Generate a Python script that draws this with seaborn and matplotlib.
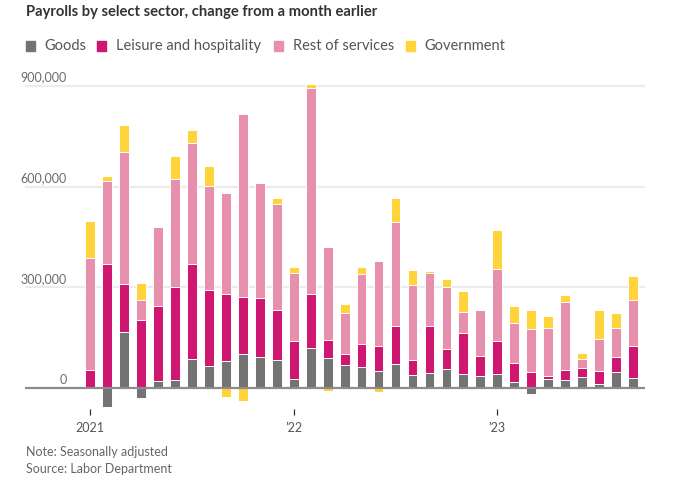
import numpy as np
import pandas as pd
import matplotlib
matplotlib.use("Agg")
import matplotlib.pyplot as plt
from matplotlib.patches import Rectangle
import seaborn as sns

# ---- data (thousands of jobs, monthly change) ----
months = pd.date_range("2021-01-01", "2023-09-01", freq="MS").strftime("%Y-%m").tolist()
goods = [0, -55, 166, -30, 20, 25, 88, 65, 81, 103, 94, 84, 28, 119, 91, 68, 62, 50,
         71, 38, 45, 56, 42, 36, 42, 18, -17, 26, 23, 33, 11, 48, 30]
leisure = [55, 371, 143, 204, 224, 275, 283, 226, 200, 168, 175, 149, 113, 162, 53, 35, 70,
           75, 113, 47, 139, 62, 121, 59, 97, 56, 48, 10, 31, 27, 39, 45, 95]
rest = [332, 247, 393, 57, 237, 324, 360, 310, 300, 545, 342, 316, 202, 613, 276, 122, 209,
        254, 310, 221, 160, 182, 65, 137, 215, 119, 128, 143, 202, 28, 95, 86, 138]
government = [110, 13, 82, 53, 0, 67, 36, 60, -27, -37, 0, 18, 18, 12, -8, 26, 20, -12,
              73, 45, 6, 24, 62, 5, 118, 51, 58, 37, 22, 16, 89, 46, 72]
series_names = ["Goods", "Leisure and hospitality", "Rest of services", "Government"]
colors = ["#737373", "#CF1670", "#E790AE", "#FFD43B"]
y_ticks = [0, 300000, 600000, 900000]
x_tick_months = ["2021-01", "2022-01", "2023-01"]
x_tick_labels = ["2021", "\u201922", "\u201923"]

sns.set_theme(style="white")
plt.rcParams["font.family"] = ["Lato", "DejaVu Sans"]

fig = plt.figure(figsize=(6.95, 4.83), dpi=100)
ax = fig.add_axes([25 / 695, 1 - 409 / 483, 620 / 695, (409 - 69) / 483])

df = pd.DataFrame({"month": months})
layers = [np.array(s, dtype=float) * 1000 for s in (goods, leisure, rest, government)]
pos_cum = np.cumsum([np.clip(l, 0, None) for l in layers], axis=0)
neg_cum = np.cumsum([np.clip(l, None, 0) for l in layers], axis=0)

for i in range(3, -1, -1):
    for cum in (pos_cum, neg_cum):
        d = df.assign(value=cum[i])
        sns.barplot(data=d, x="month", y="value", order=months, color=colors[i],
                    saturation=1, width=0.58, edgecolor="#ffffff", linewidth=0.7,
                    errorbar=None, ax=ax, zorder=2)

idx = {m: k for k, m in enumerate(months)}
ax.set_xlim(-3.83, 32.7)
ax.set_ylim(-62000, 950000)

for v in y_ticks[1:]:
    ax.axhline(v, color="#ececec", lw=1.6, zorder=1)
ax.axhline(0, color="#8c8c8c", lw=1.6, zorder=3)
for v in y_ticks:
    ax.text(-1.35, v + 7000, f"{v:,}", ha="right", va="bottom", fontsize=9,
            color="#6b6b6b", zorder=4)

ax.set_yticks([])
ax.set_xticks([idx[m] for m in x_tick_months])
ax.set_xticklabels(x_tick_labels, fontsize=9, color="#555555")
ax.tick_params(axis="x", length=4, width=0.9, color="#333333", pad=5, bottom=True)
ax.set_xlabel("")
ax.set_ylabel("")
for s in ax.spines.values():
    s.set_visible(False)

fig.text(26 / 695, 1 - 12 / 483, "Payrolls by select sector, change from a month earlier",
         fontsize=10.6, fontweight="bold", color="#333333", ha="left", va="center")

leg_sq = [26, 97.3, 274, 406]
leg_tx = [44, 115.7, 292.7, 424]
for name, c, sx, tx in zip(series_names, colors, leg_sq, leg_tx):
    fig.patches.append(Rectangle((sx / 695, 1 - 50.5 / 483), 9 / 695, 9 / 483,
                                 transform=fig.transFigure, color=c, figure=fig))
    fig.text(tx / 695, 1 - 46 / 483, name, fontsize=10.5, color="#555555",
             ha="left", va="center")

fig.text(26 / 695, 1 - 452 / 483, "Note: Seasonally adjusted", fontsize=9,
         color="#666666", ha="left", va="center")
fig.text(26 / 695, 1 - 469 / 483, "Source: Labor Department", fontsize=9,
         color="#666666", ha="left", va="center")

fig.savefig("out.png", dpi=100)
